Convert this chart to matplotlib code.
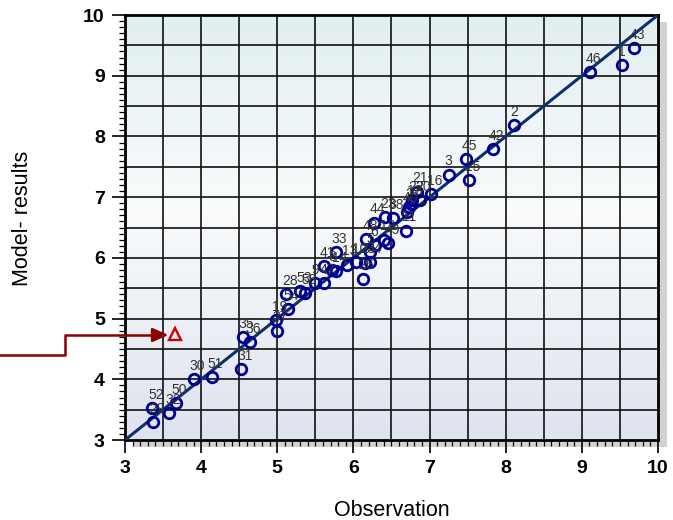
import numpy as np
import matplotlib.pyplot as plt
from matplotlib.colors import LinearSegmentedColormap
from matplotlib.patches import Rectangle

# observed vs modelled values, labelled by site number
site_ids = [43, 1, 46, 2, 42, 45, 15, 3, 16, 21, 22, 20, 27, 40, 11,
            38, 23, 44, 48, 49, 6, 5, 33, 41, 47, 14, 8, 13, 10, 26,
            34, 24, 9, 58, 53, 28, 54, 19, 37, 35, 36, 31, 51, 30, 50,
            32, 52, 29, 18, 12]
observation = [9.68, 9.53, 9.11, 8.11, 7.83, 7.48, 7.52, 7.25, 7.02, 6.83,
               6.77, 6.87, 6.73, 6.70, 6.69, 6.52, 6.41, 6.27, 6.17, 6.46,
               6.28, 6.22, 5.77, 5.61, 5.61, 5.77, 5.72, 5.91, 6.03, 6.12,
               6.22, 6.15, 5.50, 5.37, 5.30, 5.12, 5.14, 4.98, 4.99, 4.55,
               4.64, 4.53, 4.14, 3.90, 3.67, 3.58, 3.36, 3.37, 6.76, 6.40]
model = [9.46, 9.18, 9.06, 8.19, 7.79, 7.63, 7.28, 7.37, 7.05, 7.09,
         6.95, 6.95, 6.84, 6.76, 6.45, 6.66, 6.67, 6.58, 6.31, 6.24,
         6.21, 6.10, 6.09, 5.86, 5.59, 5.78, 5.80, 5.89, 5.93, 5.66,
         5.93, 5.92, 5.58, 5.42, 5.45, 5.40, 5.15, 4.98, 4.80, 4.70,
         4.61, 4.17, 4.04, 4.00, 3.61, 3.44, 3.52, 3.30, 6.88, 6.30]

flagged_obs = [3.66]
flagged_model = [4.75]

# arrow path pointing at the flagged point (data units)
arrow_x = [1.36, 2.21, 2.21, 3.40]
arrow_y = [4.40, 4.40, 4.73, 4.73]
arrow_tip = (3.57, 4.73)

fig = plt.figure(figsize=(6.73, 5.2), dpi=100)
plt.rcParams['font.family'] = ['Liberation Sans', 'DejaVu Sans']
ax = fig.add_axes([0.1857, 0.1538, 0.792, 0.8173])
ax.set_zorder(2)

# drop shadow behind the plot area
shadow = Rectangle((0.1857 + 0.014, 0.1538 - 0.014), 0.792, 0.8173,
                   transform=fig.transFigure, facecolor='#d2d2d2',
                   edgecolor='none', zorder=-1)
fig.patches.append(shadow)

# vertical background gradient
bg = LinearSegmentedColormap.from_list(
    'bg', [(0.0, '#dfe3ee'), (0.55, '#f9fbfc'), (1.0, '#e1eef0')])
ax.imshow(np.linspace(0, 1, 256).reshape(-1, 1), cmap=bg, origin='lower',
          extent=[3, 10, 3, 10], aspect='auto', zorder=0)

ax.set_xlim(3, 10)
ax.set_ylim(3, 10)
ax.set_xticks(np.arange(3, 10.1, 1))
ax.set_yticks(np.arange(3, 10.1, 1))
ax.set_xticks(np.arange(3, 10.01, 0.1), minor=True)
ax.set_yticks(np.arange(3, 10.01, 0.1), minor=True)
for v in np.arange(3.5, 10, 0.5):
    ax.axvline(v, color='#111111', lw=1.2, zorder=1)
    ax.axhline(v, color='#111111', lw=1.2, zorder=1)

ax.tick_params(which='major', direction='out', length=9.5, width=1.2,
               labelsize=14, pad=5)
ax.tick_params(which='minor', direction='out', length=4.3, width=0.9)
for lab in ax.get_xticklabels() + ax.get_yticklabels():
    lab.set_fontweight('bold')
for s in ax.spines.values():
    s.set_linewidth(2)

ax.plot([3, 10], [3, 10], color='#0d2f6b', lw=2.2, zorder=3)
ax.plot(observation, model, 'o', ms=7.6, mfc='none', mec='#000090', mew=2.0,
        zorder=4)
for sid, xo, ym in zip(site_ids, observation, model):
    ax.annotate(str(sid), (xo, ym), xytext=(-3, 4.5), textcoords='offset points',
                fontsize=10, color='#333333', ha='left', va='bottom', zorder=5)

ax.plot(flagged_obs, flagged_model, '^', ms=9, mfc='none', mec='#d00000',
        mew=1.7, zorder=4)
ax.plot(arrow_x, arrow_y, color='#8b0000', lw=1.8, clip_on=False, zorder=6)
ax.annotate('', xy=arrow_tip, xytext=(arrow_x[-1], arrow_y[-1]),
            arrowprops=dict(arrowstyle='-|>,head_length=0.95,head_width=0.42',
                            color='#8b0000', lw=1.8, shrinkA=0, shrinkB=0),
            zorder=6)

ax.set_xlabel('Observation', fontsize=15.5, va='center')
ax.xaxis.set_label_coords(0.5, -0.165)
ax.set_ylabel('Model- results', fontsize=15.5, va='center')
ax.yaxis.set_label_coords(-0.193, 0.522)

fig.savefig('out.png', dpi=100)
